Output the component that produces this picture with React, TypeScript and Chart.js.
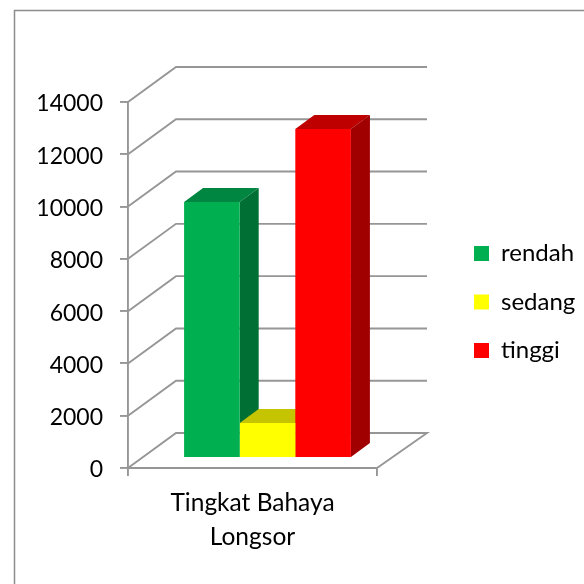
import React, { useEffect, useRef } from "react";
import { Chart, registerables } from "chart.js";

Chart.register(...registerables);

const categories = [["Tingkat Bahaya", "Longsor"]];
const seriesNames = ["rendah", "sedang", "tinggi"];
const rendahValues = [9790];
const sedangValues = [1340];
const tinggiValues = [12585];
const frontColors = ["#00B050", "#FFFF00", "#FF0000"];
const topColors = ["#008640", "#C4C400", "#BF0000"];
const sideColors = ["#006F33", "#C4C400", "#A00000"];

const FONT = "Lato, Carlito, sans-serif";
const GRID = "#969696";
const GRID_WIDTH = 1.9;
const WALL = { dx: 48, dy: -35, rightExtra: 2 };
const BAR_SHIFT = { dx: 15, dy: -10 };
const BAR_DEPTH = { dx: 19, dy: -14 };
const LEGEND_BAND = 207;

const poly = (ctx: CanvasRenderingContext2D, pts: number[][], fill: string) => {
  ctx.beginPath();
  pts.forEach(([x, y], i) => (i ? ctx.lineTo(x, y) : ctx.moveTo(x, y)));
  ctx.closePath();
  ctx.fillStyle = fill;
  ctx.fill();
};

const threeD = {
  id: "threeD",
  beforeLayout(chart: any) {
    const legend = chart.legend;
    if (legend && !legend.__wrapped) {
      const fit = legend.fit;
      legend.fit = function () {
        fit.call(this);
        this.width = LEGEND_BAND;
      };
      legend.__wrapped = true;
    }
  },
  afterLayout(chart: any) {
    const legend = chart.legend;
    legend.left = 474 - legend.options.labels.padding;
    legend.top -= 41;
    legend.bottom -= 41;
    const y = chart.scales.y;
    if (!y.__wrapped) {
      const drawLabels = y.drawLabels;
      y.drawLabels = function (area: any) {
        chart.ctx.save();
        chart.ctx.translate(0, 2);
        drawLabels.call(this, area);
        chart.ctx.restore();
      };
      y.__wrapped = true;
    }
  },
  beforeDraw(chart: any) {
    const { ctx, width, height } = chart;
    ctx.save();
    ctx.fillStyle = "#fff";
    ctx.fillRect(0, 0, width, height);
    ctx.strokeStyle = "#8c8c8c";
    ctx.lineWidth = 1.5;
    ctx.beginPath();
    ctx.moveTo(14.5, height);
    ctx.lineTo(14.5, 10.5);
    ctx.lineTo(width, 10.5);
    ctx.stroke();
    ctx.restore();
  },
  beforeDatasetsDraw(chart: any) {
    const { ctx, chartArea: a, scales } = chart;
    const y = scales.y;
    ctx.save();
    ctx.strokeStyle = GRID;
    ctx.lineWidth = GRID_WIDTH;
    y.ticks.forEach((t: any) => {
      const py = y.getPixelForValue(t.value);
      ctx.beginPath();
      ctx.moveTo(a.left, py);
      ctx.lineTo(a.left + WALL.dx, py + WALL.dy);
      ctx.lineTo(a.right + WALL.dx + WALL.rightExtra, py + WALL.dy);
      if (t.value === 0) {
        ctx.lineTo(a.right, py);
      }
      ctx.stroke();
    });
    ctx.translate(BAR_SHIFT.dx, BAR_SHIFT.dy);
    chart.data.datasets.forEach((_: any, i: number) => {
      const bar = chart.getDatasetMeta(i).data[0] as any;
      const l = bar.x - bar.width / 2;
      const r = bar.x + bar.width / 2;
      const { dx, dy } = BAR_DEPTH;
      poly(ctx, [[l, bar.y], [l + dx, bar.y + dy], [r + dx, bar.y + dy], [r, bar.y]], topColors[i]);
      poly(ctx, [[r, bar.y], [r + dx, bar.y + dy], [r + dx, bar.base + dy], [r, bar.base]], sideColors[i]);
    });
  },
  afterDatasetsDraw(chart: any) {
    chart.ctx.restore();
  },
};

export default function App() {
  const ref = useRef<HTMLCanvasElement>(null);
  useEffect(() => {
    document.body.style.margin = "0";
    const chart = new Chart(ref.current!, {
      type: "bar",
      data: {
        labels: categories as any,
        datasets: [
          { label: seriesNames[0], data: rendahValues, backgroundColor: frontColors[0] },
          { label: seriesNames[1], data: sedangValues, backgroundColor: frontColors[1] },
          { label: seriesNames[2], data: tinggiValues, backgroundColor: frontColors[2] },
        ],
      },
      options: {
        animation: false,
        responsive: false,
        layout: { padding: { top: 102, right: 0, left: 0, bottom: 0 } },
        datasets: { bar: { categoryPercentage: 0.67, barPercentage: 1, clip: false as any } },
        plugins: {
          title: { display: false },
          tooltip: { enabled: false },
          legend: {
            position: "right",
            align: "center",
            labels: {
              boxWidth: 15,
              boxHeight: 15,
              padding: 24.5,
              color: "#000",
              font: { family: FONT, size: 24 },
            },
          },
        },
        scales: {
          x: {
            afterFit(s: any) { s.height = 116; },
            grid: { offset: true, drawOnChartArea: false, color: GRID, lineWidth: GRID_WIDTH, tickLength: 8 },
            border: { color: GRID, width: GRID_WIDTH },
            ticks: { color: "#000", padding: 11, maxRotation: 0, font: { family: FONT, size: 24.5, lineHeight: 1.35 } },
          },
          y: {
            min: 0,
            max: 14000,
            afterFit(s: any) { s.width = 128; },
            grid: { drawOnChartArea: false, color: GRID, lineWidth: GRID_WIDTH, tickLength: 8 },
            border: { color: GRID, width: GRID_WIDTH },
            ticks: {
              stepSize: 2000,
              color: "#000",
              padding: 17,
              font: { family: FONT, size: 23 },
              callback: (v: any) => String(v),
            },
          },
        },
      },
      plugins: [threeD],
    } as any);
    return () => chart.destroy();
  }, []);
  return <canvas ref={ref} width={584} height={584} style={{ display: "block" }} />;
}
